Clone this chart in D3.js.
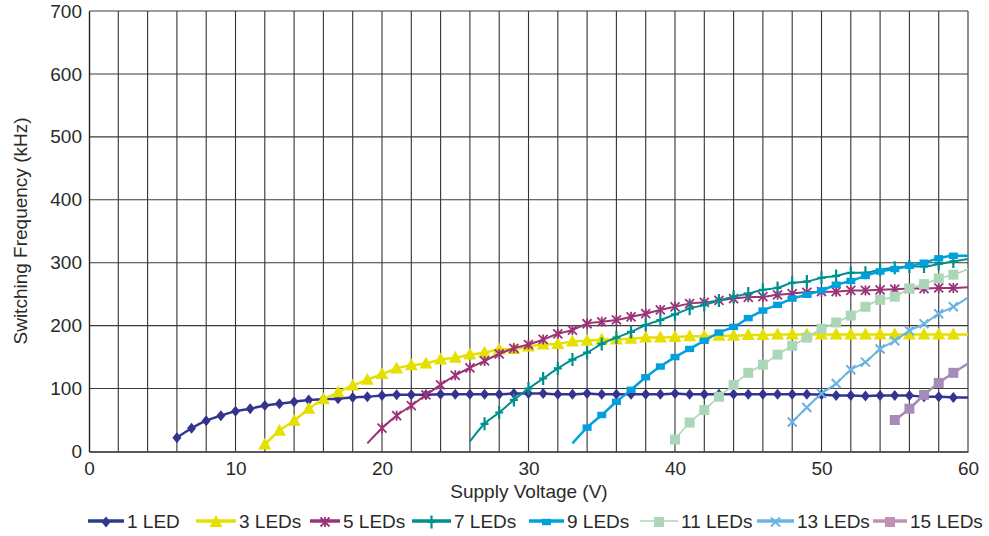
<!DOCTYPE html>
<html>
<head>
<meta charset="utf-8">
<script src="https://cdn.jsdelivr.net/npm/d3@7"></script>
<style>
  html, body { margin: 0; padding: 0; background: #fff; }
  svg { display: block; }
  text { font-family: "Liberation Sans", Arial, sans-serif; fill: #2a2a2a; }
</style>
</head>
<body>
<svg id="chart" width="989" height="536"></svg>
<script>
// ---------------- data ----------------
const seriesNames = ["1 LED", "3 LEDs", "5 LEDs", "7 LEDs", "9 LEDs", "11 LEDs", "13 LEDs", "15 LEDs"];
const startVoltages = [6, 12, 19, 26, 33, 40, 48, 55];   // first supply voltage (V) of each series, 1 V steps

const led1 = [22,37,49,57,64,68,73,76,79,82, 83,84,86,87,89,90,90,90,91,91, 91,91,91,92,92,92,91,91,92,91,
              91,91,91,91,92,91,91,91,91,91, 91,91,91,91,90,89,89,88,89,89, 89,87,87,86,86];
const led3 = [11,33,49,68,83,94,105,114,123,132, 137,140,146,149,154,157,162,163,167,170,
              171,175,176,178,178,179,181,181,182,183, 183,184,184,185,185,186,186,186,186,186,
              186,186,186,186,186,186,186,186,186];
const led5 = [13,37,57,73,90,106,121,133,144,155, 164,170,178,187,193,203,206,209,214,219,
              225,230,235,237,240,243,245,246,249,251, 253,254,254,256,256,257,258,259,259,260, 260,261];
const led7 = [16,44,62,82,100,116,132,146,157,171, 181,190,201,209,218,227,233,240,246,251,
              257,260,268,270,276,279,284,284,289,292, 294,294,298,302,306];
const led9 = [13,38,58,79,98,118,135,150,163,176, 189,198,212,224,233,243,249,256,265,271,
              279,286,290,295,300,307,311,311];
const led11 = [19,46,66,87,106,125,138,154,168,181, 195,205,216,230,241,246,259,266,275,281,290];
const led13 = [47,70,92,108,130,142,163,176,192,203,219,230,245];
const led15 = [50,68,90,109,125,140];

const xTicks = [0, 10, 20, 30, 40, 50, 60];
const yTicks = [0, 100, 200, 300, 400, 500, 600, 700];
const xLabel = "Supply Voltage (V)";
const yLabel = "Switching Frequency (kHz)";

// ---------------- styles ----------------
const colors = ["#343490", "#e6e000", "#9a3377", "#008f8f", "#00a0dc", "#acd6b8", "#6ab4e2", "#a58bb8"];
const legendColors = ["#2c3c8c", "#e6e000", "#9a3377", "#008f8f", "#00a0dc", "#acd6b8", "#6ab4e2", "#c093b6"];
const lineWidths = [2.5, 2.5, 2, 2, 2.5, 1.6, 2, 2.5];
const markerKinds = ["diamond", "triangle", "asterisk", "plus", "rect", "square", "x", "square"];
const markFirst = [true, true, false, false, false, true, true, true];

const allValues = [led1, led3, led5, led7, led9, led11, led13, led15];
const series = seriesNames.map((name, i) => ({
  name, color: colors[i], lw: lineWidths[i], kind: markerKinds[i], markFirst: markFirst[i],
  points: allValues[i].map((f, j) => ({ v: startVoltages[i] + j, f }))
}));

// ---------------- layout ----------------
const svg = d3.select("#chart");
const x = d3.scaleLinear().domain([0, 60]).range([89, 968]);
const y = d3.scaleLinear().domain([0, 700]).range([451.5, 11]);

// gridlines
const g = svg.append("g");
g.selectAll("line.vg").data(d3.range(2, 61, 2)).join("line")
  .attr("x1", d => x(d)).attr("x2", d => x(d)).attr("y1", y(0)).attr("y2", y(700))
  .attr("stroke", "#333").attr("stroke-width", 1.1);
g.selectAll("line.hg").data(yTicks.slice(1)).join("line")
  .attr("x1", x(0)).attr("x2", x(60)).attr("y1", d => y(d)).attr("y2", d => y(d))
  .attr("stroke", "#3a3a3a").attr("stroke-width", 1.1);

// axes
const xAxis = d3.axisBottom(x).tickValues(xTicks).tickSize(0).tickPadding(6);
const yAxis = d3.axisLeft(y).tickValues(yTicks).tickSize(0).tickPadding(7);
const gx = svg.append("g").attr("transform", `translate(0,${y(0)})`).call(xAxis);
const gy = svg.append("g").attr("transform", `translate(${x(0)},0)`).call(yAxis);
[gx, gy].forEach(a => {
  a.select(".domain").attr("stroke", "#222").attr("stroke-width", 1.4);
  a.selectAll("text").attr("font-size", 19).attr("font-family", "Liberation Sans, Arial, sans-serif").attr("fill", "#2a2a2a");
});
gx.selectAll("text").attr("dy", "0.9em");

// axis titles
svg.append("text").attr("x", 529).attr("y", 498).attr("text-anchor", "middle")
  .attr("font-size", 19).text(xLabel);
svg.append("text").attr("transform", "translate(27,231) rotate(-90)").attr("text-anchor", "middle")
  .attr("font-size", 19).text(yLabel);

// marker shape helper
function marker(sel, kind, color, scale) {
  const s = scale || 1;
  if (kind === "diamond") {
    sel.append("path").attr("d", `M0,${-5.5*s}L${4.5*s},0L0,${5.5*s}L${-4.5*s},0Z`).attr("fill", color);
  } else if (kind === "triangle") {
    sel.append("path").attr("d", `M0,${-7*s}L${6.5*s},${5*s}L${-6.5*s},${5*s}Z`).attr("fill", color);
  } else if (kind === "asterisk") {
    const r = 4.5*s;
    sel.append("path").attr("d", `M${-r},${-r}L${r},${r}M${-r},${r}L${r},${-r}M0,${-r-0.5}L0,${r+0.5}`)
      .attr("stroke", color).attr("stroke-width", 1.8).attr("fill", "none");
  } else if (kind === "plus") {
    sel.append("path").attr("d", `M0,${-6.5*s}L0,${6.5*s}M${-4*s},0L${4*s},0`)
      .attr("stroke", color).attr("stroke-width", 2.2).attr("fill", "none");
  } else if (kind === "rect") {
    sel.append("rect").attr("x", -4.5*s).attr("y", -3.2*s).attr("width", 9*s).attr("height", 6.4*s).attr("fill", color);
  } else if (kind === "square") {
    sel.append("rect").attr("x", -5*s).attr("y", -5*s).attr("width", 10*s).attr("height", 10*s).attr("fill", color);
  } else if (kind === "x") {
    const r = 4.5*s;
    sel.append("path").attr("d", `M${-r},${-r}L${r},${r}M${-r},${r}L${r},${-r}`)
      .attr("stroke", color).attr("stroke-width", 2).attr("fill", "none");
  }
}

// lines + markers
const line = d3.line().x(d => x(d.v)).y(d => y(d.f)).curve(d3.curveMonotoneX);
const plot = svg.append("g");
series.forEach(s => {
  plot.append("path").datum(s.points).attr("d", line)
    .attr("fill", "none").attr("stroke", s.color).attr("stroke-width", s.lw).attr("stroke-linejoin", "round");
  const mg = plot.append("g");
  s.points.filter((p, j) => p.v < 60 && (j > 0 || s.markFirst)).forEach(p => {
    const m = mg.append("g").attr("transform", `translate(${x(p.v)},${y(p.f)})`);
    marker(m, s.kind, s.color, 1);
  });
});

// legend
const legendStart = [88, 196, 310, 412, 529, 640, 757, 873];
const legendTextX = [127, 239, 343, 454, 567, 681, 797, 910];
const legendY = 521;
const lg = svg.append("g");
series.forEach((s, i) => {
  const x0 = legendStart[i], x1 = legendTextX[i] - 3;
  lg.append("line").attr("x1", x0).attr("x2", x1).attr("y1", legendY).attr("y2", legendY)
    .attr("stroke", legendColors[i]).attr("stroke-width", i === 5 ? 1.6 : 3.5);
  const m = lg.append("g").attr("transform", `translate(${(x0 + x1) / 2},${legendY + 1})`);
  marker(m, s.kind, legendColors[i], 1);
  lg.append("text").attr("x", legendTextX[i]).attr("y", legendY + 7).attr("font-size", 19).text(s.name);
});
</script>
</body>
</html>
